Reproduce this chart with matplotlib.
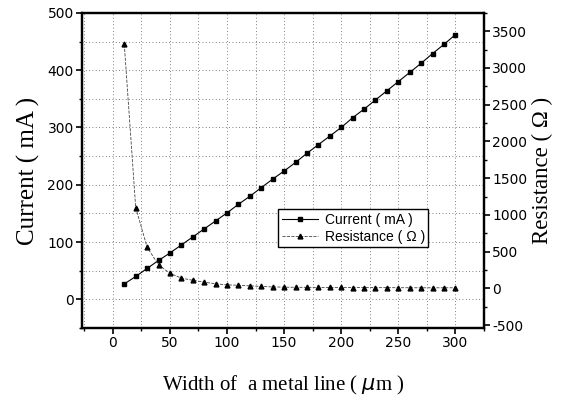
import numpy as np
import matplotlib
matplotlib.use("Agg")
import matplotlib.pyplot as plt
from matplotlib.ticker import MultipleLocator

# line width in um
width_um = [10, 20, 30, 40, 50, 60, 70, 80, 90, 100,
            110, 120, 130, 140, 150, 160, 170, 180, 190, 200,
            210, 220, 230, 240, 250, 260, 270, 280, 290, 300]

# current (mA), left axis
current_ma = [27, 40, 54, 68, 81, 95, 109, 123, 137, 151,
              166, 180, 195, 210, 224, 239, 255, 270, 285, 300,
              317, 332, 348, 364, 380, 396, 412, 429, 445, 462]

# resistance (ohm), right axis
resistance_ohm = [3320, 1100, 560, 320, 205, 140, 110, 85, 62, 48,
                  42, 35, 26, 20, 16, 15, 14, 13, 13, 12,
                  11, 11, 10, 10, 9, 9, 8, 8, 8, 8]

plt.rcParams["axes.unicode_minus"] = False

tick_font = ["DejaVu Sans"]
sans = ["Liberation Sans", "DejaVu Sans"]
serif = ["Liberation Serif", "DejaVu Serif"]

fig = plt.figure(figsize=(5.62, 4.03), dpi=100, facecolor="white")
ax = fig.add_axes([0.146, 0.186, 0.715, 0.782])
ax2 = ax.twinx()

l1, = ax.plot(width_um, current_ma, color="black", lw=0.8, ls="-",
              marker="s", ms=3, mfc="black", mec="black")
l2, = ax2.plot(width_um, resistance_ohm, color="#444444", lw=0.6, ls="--",
               marker="^", ms=3.5, mfc="black", mec="black")

ax.set_xlim(-27, 325)
ax.set_ylim(-50, 500)
ax2.set_ylim(-540, 3750)

ax.xaxis.set_major_locator(MultipleLocator(50))
ax.xaxis.set_minor_locator(MultipleLocator(25))
ax.yaxis.set_major_locator(MultipleLocator(100))
ax.yaxis.set_minor_locator(MultipleLocator(50))
ax2.yaxis.set_major_locator(MultipleLocator(500))
ax2.yaxis.set_minor_locator(MultipleLocator(250))

ax.grid(True, which="both", ls=(0, (1, 3)), color="#555555", lw=0.6)
ax.set_axisbelow(True)

for a in (ax, ax2):
    a.tick_params(which="major", direction="out", length=4, width=1.2,
                  labelsize=10, pad=2)
    a.tick_params(which="minor", direction="out", length=2.5, width=1)
    for sp in a.spines.values():
        sp.set_linewidth(1.6)
ax.tick_params(top=False, right=False)
ax2.tick_params(left=False)

for lab in ax.get_xticklabels() + ax.get_yticklabels() + ax2.get_yticklabels():
    lab.set_family(tick_font)

ax.set_xlabel("Width of  a metal line ( $\\mu$m )", family=serif,
              fontsize=15, labelpad=17)
ax.set_ylabel("Current ( mA )", family=serif, fontsize=18, labelpad=5)
ax2.set_ylabel("Resistance ( \u03a9 )", family=serif, fontsize=16.5,
               rotation=90, labelpad=3)

leg = ax.legend([l1, l2], ["Current ( mA )", "Resistance ( \u03a9 )"],
                loc="lower left", bbox_to_anchor=(0.488, 0.257),
                prop={"family": sans, "size": 10}, frameon=True,
                fancybox=False, edgecolor="black", framealpha=1,
                borderpad=0.25, handlelength=2.6, handletextpad=0.5,
                labelspacing=0.2, borderaxespad=0)
leg.get_frame().set_linewidth(1.0)

fig.savefig("out.png", dpi=100, facecolor="white")
